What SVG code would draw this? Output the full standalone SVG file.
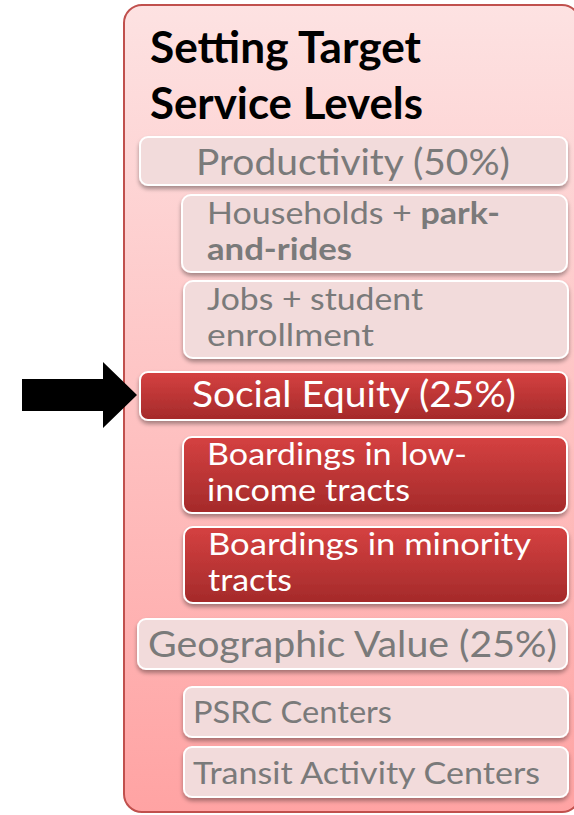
<svg xmlns="http://www.w3.org/2000/svg" width="574" height="815" viewBox="0 0 574 815">
  <defs>
    <linearGradient id="panelFill" x1="0" y1="0" x2="0" y2="1">
      <stop offset="0" stop-color="#fde2e2"/>
      <stop offset="1" stop-color="#ffa3a3"/>
    </linearGradient>
    <linearGradient id="redFill" x1="0" y1="0" x2="0" y2="1">
      <stop offset="0" stop-color="#d54141"/>
      <stop offset="1" stop-color="#a42a2a"/>
    </linearGradient>
    <filter id="shadow" x="-5%" y="-20%" width="110%" height="150%">
      <feGaussianBlur in="SourceAlpha" stdDeviation="2"/>
      <feOffset dy="3" result="b"/>
      <feComponentTransfer><feFuncA type="linear" slope="0.35"/></feComponentTransfer>
      <feMerge><feMergeNode/><feMergeNode in="SourceGraphic"/></feMerge>
    </filter>
  </defs>
  <style>
    text { font-family: Lato, "Open Sans", "Liberation Sans", sans-serif; }
    .panel { fill: url(#panelFill); stroke: #c0504d; stroke-width: 2; }
    .title { font-size: 43px; font-weight: bold; fill: #000; }
    .pale { fill: #f2dbdb; stroke: #fff; stroke-width: 2; filter: url(#shadow); }
    .red { fill: url(#redFill); stroke: #fff; stroke-width: 2; filter: url(#shadow); }
    .main { font-size: 36px; }
    .sub { font-size: 31px; }
    .grey { fill: #7a7a7a; }
    .white { fill: #fff; }
    .b { font-weight: bold; }
  </style>

  <!-- outer panel -->
  <g id="panel">
    <rect class="panel" x="124" y="5" width="456" height="807" rx="18"/>
    <text class="title" x="150" y="63" textLength="271" lengthAdjust="spacingAndGlyphs">Setting Target</text>
    <text class="title" x="150" y="119" textLength="273" lengthAdjust="spacingAndGlyphs">Service Levels</text>
  </g>

  <!-- pointer arrow -->
  <g id="arrow">
    <polygon points="22,379 103,379 103,362 137,395 103,428 103,411 22,411" fill="#000"/>
  </g>

  <g id="productivity">
    <rect class="pale" x="140" y="137" width="427" height="48" rx="8"/>
    <text class="main grey" x="196" y="175" textLength="314" lengthAdjust="spacingAndGlyphs">Productivity (50%)</text>
  </g>

  <g id="households">
    <rect class="pale" x="182" y="195" width="385" height="77" rx="9"/>
    <text class="sub grey" x="207" y="224" textLength="293" lengthAdjust="spacingAndGlyphs">Households + <tspan class="b">park-</tspan></text>
    <text class="sub grey b" x="207" y="260" textLength="145" lengthAdjust="spacingAndGlyphs">and-rides</text>
  </g>

  <g id="jobs">
    <rect class="pale" x="184" y="281" width="384" height="77" rx="9"/>
    <text class="sub grey" x="207" y="310" textLength="216" lengthAdjust="spacingAndGlyphs">Jobs + student</text>
    <text class="sub grey" x="207" y="346" textLength="167" lengthAdjust="spacingAndGlyphs">enrollment</text>
  </g>

  <g id="social-equity">
    <rect class="red" x="140" y="372" width="427" height="48" rx="8"/>
    <text class="main white" x="192" y="407" textLength="324" lengthAdjust="spacingAndGlyphs">Social Equity (25%)</text>
  </g>

  <g id="low-income">
    <rect class="red" x="183" y="437" width="384" height="76" rx="9"/>
    <text class="sub white" x="207" y="465" textLength="260" lengthAdjust="spacingAndGlyphs">Boardings in low-</text>
    <text class="sub white" x="207" y="501" textLength="203" lengthAdjust="spacingAndGlyphs">income tracts</text>
  </g>

  <g id="minority">
    <rect class="red" x="184" y="527" width="384" height="76" rx="9"/>
    <text class="sub white" x="208" y="555" textLength="323" lengthAdjust="spacingAndGlyphs">Boardings in minority</text>
    <text class="sub white" x="208" y="591" textLength="84" lengthAdjust="spacingAndGlyphs">tracts</text>
  </g>

  <g id="geographic-value">
    <rect class="pale" x="138" y="619" width="429" height="50" rx="8"/>
    <text class="main grey" x="148" y="657" textLength="409" lengthAdjust="spacingAndGlyphs">Geographic Value (25%)</text>
  </g>

  <g id="psrc">
    <rect class="pale" x="184" y="687" width="384" height="50" rx="8"/>
    <text class="sub grey" x="193" y="723" textLength="199" lengthAdjust="spacingAndGlyphs">PSRC Centers</text>
  </g>

  <g id="transit-activity">
    <rect class="pale" x="184" y="747" width="384" height="50" rx="8"/>
    <text class="sub grey" x="193" y="784" textLength="347" lengthAdjust="spacingAndGlyphs">Transit Activity Centers</text>
  </g>

  <!-- no connectors beyond the arrow -->
  <g id="connectors"/>
</svg>
